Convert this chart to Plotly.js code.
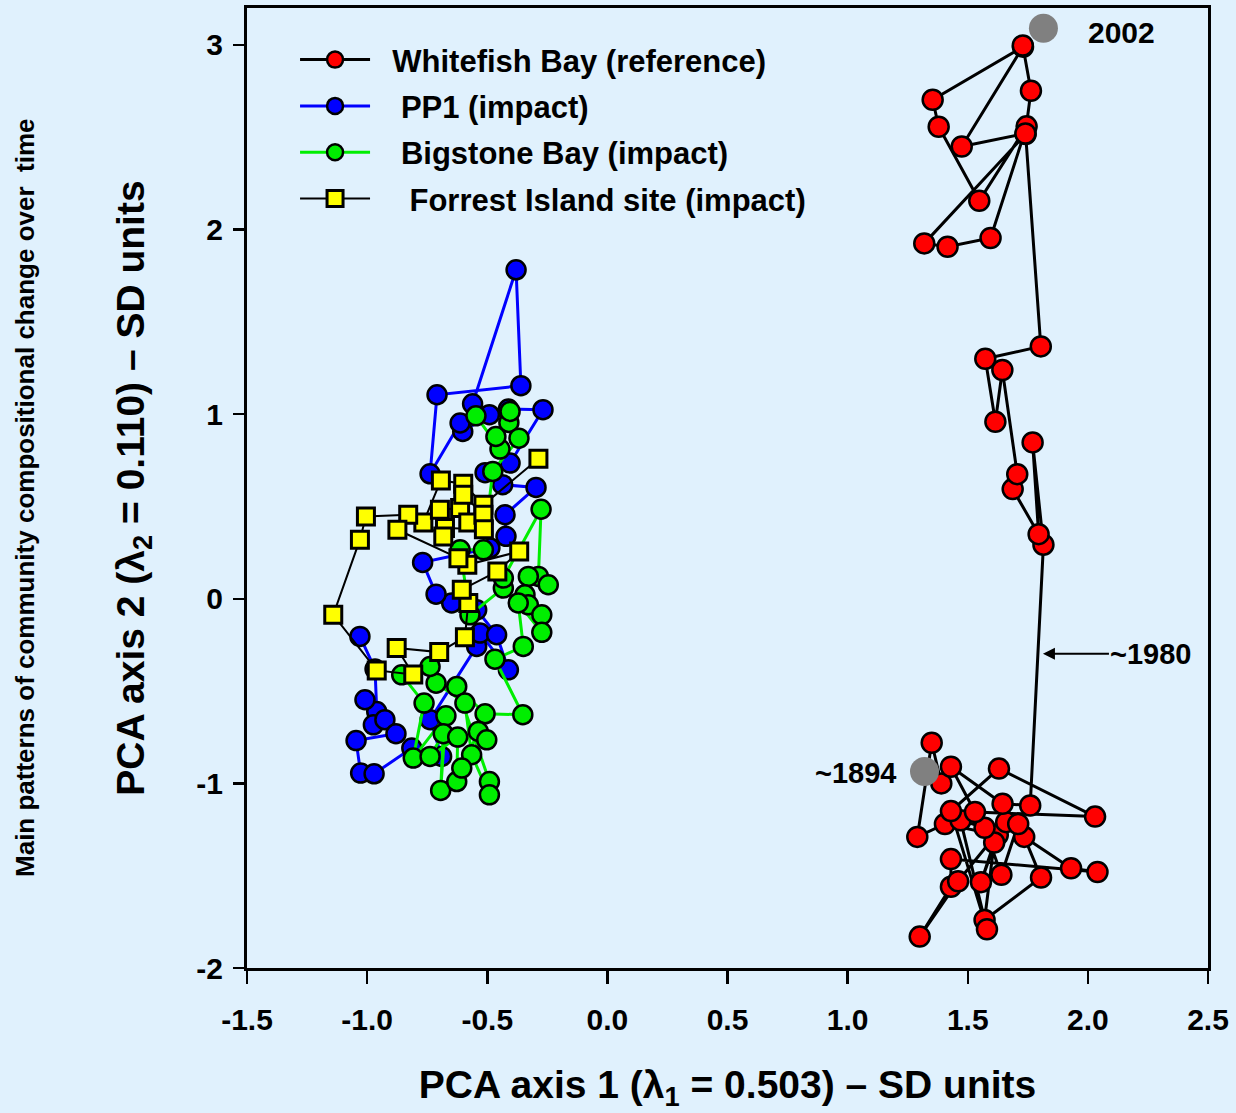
<!DOCTYPE html>
<html><head><meta charset="utf-8">
<script src="https://cdn.plot.ly/plotly-3.0.1.min.js"></script>
<style>html,body{margin:0;padding:0;background:#E0F1FD;} #chart{width:1236px;height:1113px;}</style>
</head><body><div id="chart"></div>
<script>
// Whitefish Bay (reference) trajectory, ~1894 -> 2002
const whitefishX = [1.39,1.35,1.29,1.405,1.625,1.555,1.61,1.57,1.805,1.735,1.93,2.04,1.43,1.43,1.30,1.46,1.66,1.71,1.64,1.57,1.47,1.58,1.43,1.63,2.03,1.53,1.43,1.645,1.76,
  1.815,1.77,1.795,1.687,1.706,1.644,1.615,1.573,1.804,
  1.741,1.319,1.416,1.595,1.745,1.548,1.379,1.354,1.73,1.475,1.74,1.763,1.729];
const whitefishY = [-1.00,-0.78,-1.29,-1.22,-1.28,-1.535,-1.32,-1.74,-1.51,-1.29,-1.46,-1.48,-1.41,-1.56,-1.83,-1.53,-1.21,-1.22,-1.495,-1.24,-1.20,-1.79,-1.15,-0.92,-1.18,-1.155,-0.91,-1.11,-1.12,
  0.293,0.847,0.350,0.594,0.675,1.239,0.959,1.300,1.367,
  2.517,1.925,1.907,1.954,2.559,2.156,2.557,2.703,2.99,2.450,2.52,2.752,2.997];
// PP1 (impact)
const pp1X = [-1.030,-0.967,-0.960,-0.974,-1.009,-0.926,-0.880,-1.046,-1.027,-0.971,-0.814,-0.690,-0.738,-0.544,-0.530,-0.412,-0.461,-0.544,-0.648,-0.713,-0.769,-0.489,-0.422,-0.426,-0.297,-0.436,-0.509,-0.405,-0.268,-0.412,-0.491,-0.602,-0.613,-0.738,-0.709,-0.36,-0.38,-0.561];
const pp1Y = [-0.204,-0.381,-0.611,-0.683,-0.547,-0.655,-0.731,-0.768,-0.944,-0.948,-0.809,-0.854,-0.655,-0.258,-0.186,-0.385,-0.195,-0.060,-0.023,0.025,0.197,0.275,0.338,0.455,0.603,0.618,0.683,0.735,1.024,1.028,0.997,0.906,0.952,0.677,1.105,1.154,1.782,1.056];
// Bigstone Bay (impact)
const bigstoneX = [-0.547,-0.447,-0.464,-0.410,-0.405,-0.368,-0.477,-0.516,-0.613,-0.572,-0.433,-0.433,-0.276,-0.287,-0.246,-0.329,-0.343,-0.329,-0.273,-0.273,-0.371,-0.350,-0.468,-0.352,-0.509,-0.627,-0.491,-0.491,-0.565,-0.593,-0.713,-0.738,-0.856,-0.763,-0.808,-0.672,-0.694,-0.683,-0.738,-0.623,-0.627,-0.606,-0.537,-0.502];
const bigstoneY = [0.991,0.811,0.879,0.955,1.015,0.870,0.690,0.265,0.265,-0.087,0.058,0.112,0.485,0.121,0.076,0.121,0.022,-0.033,-0.087,-0.182,-0.023,-0.258,-0.327,-0.628,-0.623,-0.475,-0.990,-1.062,-0.845,-0.565,-0.457,-0.367,-0.412,-0.565,-0.863,-0.634,-1.038,-0.731,-0.854,-0.749,-0.990,-0.917,-0.719,-0.764];
// Forrest Island site (impact)
const forrestX = [-0.287,-0.516,-0.600,-0.693,-0.766,-0.697,-0.613,-0.579,-0.600,-0.516,-0.514,-0.676,-0.683,-0.829,-1.005,-1.030,-1.141,-0.960,-0.808,-0.877,-0.700,-0.593,-0.579,-0.606,-0.458,-0.367,-0.583,-0.620,-0.874];
const forrestY = [0.758,0.509,0.623,0.641,0.413,0.482,0.491,0.413,0.563,0.455,0.377,0.383,0.337,0.455,0.446,0.320,-0.087,-0.388,-0.410,-0.267,-0.289,-0.208,-0.023,0.049,0.148,0.256,0.184,0.220,0.374];
// grey year markers
const yearMarkX = [1.32,1.815];
const yearMarkY = [-0.935,3.09];
const xTickVals = [-1.5,-1.0,-0.5,0.0,0.5,1.0,1.5,2.0,2.5];
const xTickText = ['-1.5','-1.0','-0.5','0.0','0.5','1.0','1.5','2.0','2.5'];
const yTickVals = [-2,-1,0,1,2,3];
const yTickText = ['-2','-1','0','1','2','3'];

const FONT = 'Liberation Sans, Arial, sans-serif';
const BG = '#E0F1FD';
const NB = '\u00a0';

const traces = [
  {x: whitefishX, y: whitefishY, name: NB+NB+'Whitefish Bay (reference)', mode: 'lines+markers', legendgroup:'a',
   line: {color: '#000000', width: 3}, marker: {symbol: 'circle', size: 20, color: '#FF0000', line: {color: '#000000', width: 2.5}}},
  {x: pp1X, y: pp1Y, name: NB+NB+NB+'PP1 (impact)', mode: 'lines+markers', legendgroup:'b',
   line: {color: '#0000FF', width: 3}, marker: {symbol: 'circle', size: 19, color: '#0000FF', line: {color: '#000000', width: 2.5}}},
  {x: bigstoneX, y: bigstoneY, name: NB+NB+NB+'Bigstone Bay (impact)', mode: 'lines+markers', legendgroup:'c',
   line: {color: '#00EE00', width: 3}, marker: {symbol: 'circle', size: 19, color: '#00EE00', line: {color: '#000000', width: 2.5}}},
  {x: forrestX, y: forrestY, name: NB+NB+NB+NB+'Forrest Island site (impact)', mode: 'lines+markers', legendgroup:'d',
   line: {color: '#000000', width: 2}, marker: {symbol: 'square', size: 17, color: '#FFFF00', line: {color: '#000000', width: 3}}},
  {x: yearMarkX, y: yearMarkY, mode: 'markers', showlegend: false, hoverinfo: 'skip',
   marker: {symbol: 'circle', size: 29, color: '#808080'}}
];

const axisCommon = {
  showline: true, linecolor: '#000000', linewidth: 3, mirror: true,
  ticks: 'outside', tickcolor: '#000000', tickwidth: 2.5,
  showgrid: false, zeroline: false,
  tickfont: {family: FONT, size: 30, color: '#000000', weight: 'bold'}
};

const layout = {
  width: 1236, height: 1113,
  paper_bgcolor: BG, plot_bgcolor: BG,
  margin: {l: 247, r: 28, t: 8, b: 145},
  font: {family: FONT, color: '#000000'},
  xaxis: Object.assign({}, axisCommon, {
    range: [-1.5, 2.5], tickmode: 'array', tickvals: xTickVals, ticktext: xTickText, ticklen: 13, ticklabelstandoff: 10,
    title: {text: 'PCA axis 1 (λ<sub>1</sub> = 0.503) – SD units', standoff: 36,
      font: {family: FONT, size: 39, color: '#000000', weight: 'bold'}}
  }),
  yaxis: Object.assign({}, axisCommon, {
    range: [-2, 3.2], tickmode: 'array', tickvals: yTickVals, ticktext: yTickText, ticklen: 11, ticklabelstandoff: 4,
    title: {text: 'PCA axis 2 (λ<sub>2</sub> = 0.110) – SD units', standoff: 40,
      font: {family: FONT, size: 39, color: '#000000', weight: 'bold'}}
  }),
  legend: {
    x: 0.05, y: 0.974, xanchor: 'left', yanchor: 'top',
    bgcolor: 'rgba(0,0,0,0)', borderwidth: 0,
    font: {family: FONT, size: 31, color: '#000000', weight: 'bold'},
    itemwidth: 70, tracegroupgap: 3
  },
  annotations: [
    {xref: 'x', yref: 'y', x: 2.138, y: 3.066, text: '2002', showarrow: false,
     font: {family: FONT, size: 30, weight: 'bold', color: '#000000'}},
    {xref: 'x', yref: 'y', x: 1.031, y: -0.943, text: '~1894', showarrow: false,
     font: {family: FONT, size: 29, weight: 'bold', color: '#000000'}},
    {xref: 'x', yref: 'y', x: 1.813, y: -0.298, text: '~1980', showarrow: true,
     ax: 108, ay: 0, arrowhead: 2, arrowsize: 1.2, arrowwidth: 2, arrowcolor: '#000000', standoff: 0,
     font: {family: FONT, size: 29, weight: 'bold', color: '#000000'}},
    {xref: 'paper', yref: 'paper', x: -0.231, y: 0.4896, xanchor: 'center', yanchor: 'middle', textangle: -90, showarrow: false,
     text: 'Main patterns of community compositional change over  time',
     font: {family: FONT, size: 26, weight: 'bold', color: '#000000'}}
  ]
};

Plotly.newPlot('chart', traces, layout, {displayModeBar: false, staticPlot: true});
</script>
</body></html>
